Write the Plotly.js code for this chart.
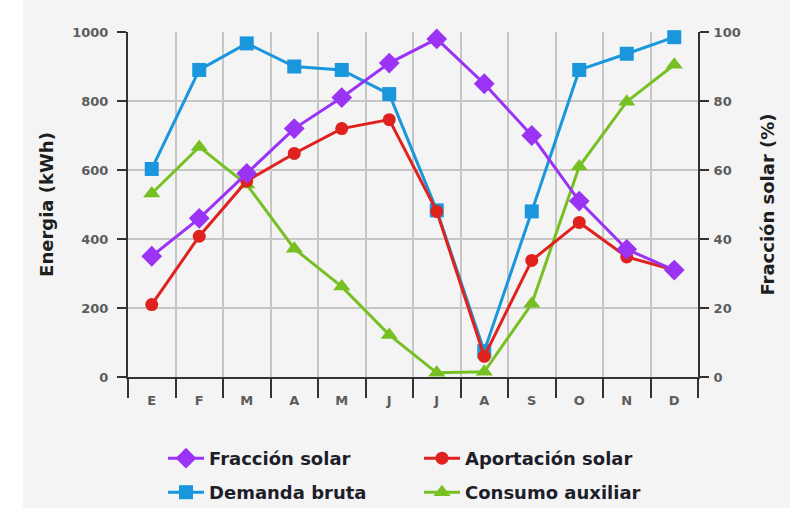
<!DOCTYPE html>
<html><head><meta charset="utf-8">
<script src="https://cdn.plot.ly/plotly-3.0.1.min.js"></script>
<style>html,body{margin:0;padding:0;background:#ffffff;}#chart{width:809px;height:515px;}</style>
</head><body><div id="chart"></div>
<script>
const months = ['E','F','M','A','M','J','J','A','S','O','N','D'];
const fraccionSolar = [35, 46, 59, 72, 81, 91, 98, 85, 70, 51, 37, 31];
const aportacionSolar = [210, 408, 568, 648, 720, 746, 480, 60, 338, 448, 348, 310];
const demandaBruta = [603, 890, 967, 900, 890, 820, 483, 75, 480, 890, 937, 985];
const consumoAuxiliar = [532, 667, 558, 372, 262, 122, 12, 15, 212, 610, 798, 905];

const idx = months.map((m, i) => i);
const font = 'DejaVu Sans, Verdana, sans-serif';
const W = 809, H = 515;

function tr(name, y, color, symbol, size, yaxis, rank, legend) {
  return {
    x: idx, y: y, name: name, type: 'scatter', mode: 'lines+markers',
    yaxis: yaxis, legendrank: rank, legend: legend, cliponaxis: false,
    line: {color: color, width: 3},
    marker: {color: color, symbol: symbol, size: size}
  };
}

const data = [
  tr('Demanda bruta', demandaBruta, '#1a97dc', 'square', 14, 'y', 1, 'legend2'),
  tr('Consumo auxiliar', consumoAuxiliar, '#77c024', 'triangle-up', 15, 'y', 2, 'legend2'),
  tr('Aportación solar', aportacionSolar, '#e0221e', 'circle', 13, 'y', 2, 'legend'),
  tr('Fracción solar', fraccionSolar, '#9b33f5', 'diamond', 16, 'y2', 1, 'legend')
];

const tickFont = {size: 13, color: '#5c5c5c', family: font, weight: 'bold'};
const titleFont = {size: 18, color: '#1e1e1e', family: font, weight: 'bold'};
const legFont = {size: 18, color: '#1e1e2a', family: font, weight: 'bold'};

function leg(topPx) {
  return {
    orientation: 'h', xref: 'container', yref: 'container',
    x: 163 / W, xanchor: 'left', y: (H - topPx) / H, yanchor: 'top',
    entrywidth: 205, entrywidthmode: 'pixels',
    font: legFont, bgcolor: 'rgba(0,0,0,0)', itemwidth: 36
  };
}

const layout = {
  width: W, height: H,
  paper_bgcolor: '#ffffff', plot_bgcolor: 'rgba(0,0,0,0)',
  margin: {l: 128, r: 111, t: 32, b: 138},
  font: {family: font, color: '#222'},
  showlegend: true,
  shapes: [{
    type: 'rect', xref: 'paper', yref: 'paper', layer: 'below',
    x0: (23 - 128) / 570, x1: (790 - 128) / 570,
    y0: (377 - 508) / 345, y1: 377 / 345,
    fillcolor: '#f4f4f4', line: {width: 0}
  }],
  xaxis: {
    range: [-0.5, 11.5], tickmode: 'array', tickvals: idx, ticktext: months,
    ticks: '', showgrid: false, zeroline: false,
    showline: true, linecolor: '#333', linewidth: 2,
    tickfont: tickFont, ticklabelstandoff: 10,
    minor: {tick0: -0.5, dtick: 1, ticks: 'outside', ticklen: 19, tickcolor: '#333', tickwidth: 2,
            showgrid: true, gridcolor: '#c6c6c6', gridwidth: 2}
  },
  yaxis: {
    range: [0, 1000], dtick: 200, showgrid: true, gridcolor: '#c6c6c6', gridwidth: 2,
    zeroline: false, showline: true, linecolor: '#333', linewidth: 2,
    ticks: 'outside', ticklen: 9, tickcolor: '#333', tickwidth: 2,
    tickfont: tickFont, ticklabelstandoff: 6,
    title: {text: 'Energia (kWh)', font: titleFont, standoff: 14}
  },
  yaxis2: {
    range: [0, 100], dtick: 20, overlaying: 'y', side: 'right', showgrid: false,
    zeroline: false, showline: true, linecolor: '#333', linewidth: 2,
    ticks: 'outside', ticklen: 9, tickcolor: '#333', tickwidth: 2,
    tickfont: tickFont, ticklabelstandoff: 2,
    title: {text: 'Fracción solar (%)', font: titleFont, standoff: 22}
  },
  legend: leg(440),
  legend2: leg(474)
};

Plotly.newPlot('chart', data, layout, {displayModeBar: false, staticPlot: true});
</script>
</body></html>
